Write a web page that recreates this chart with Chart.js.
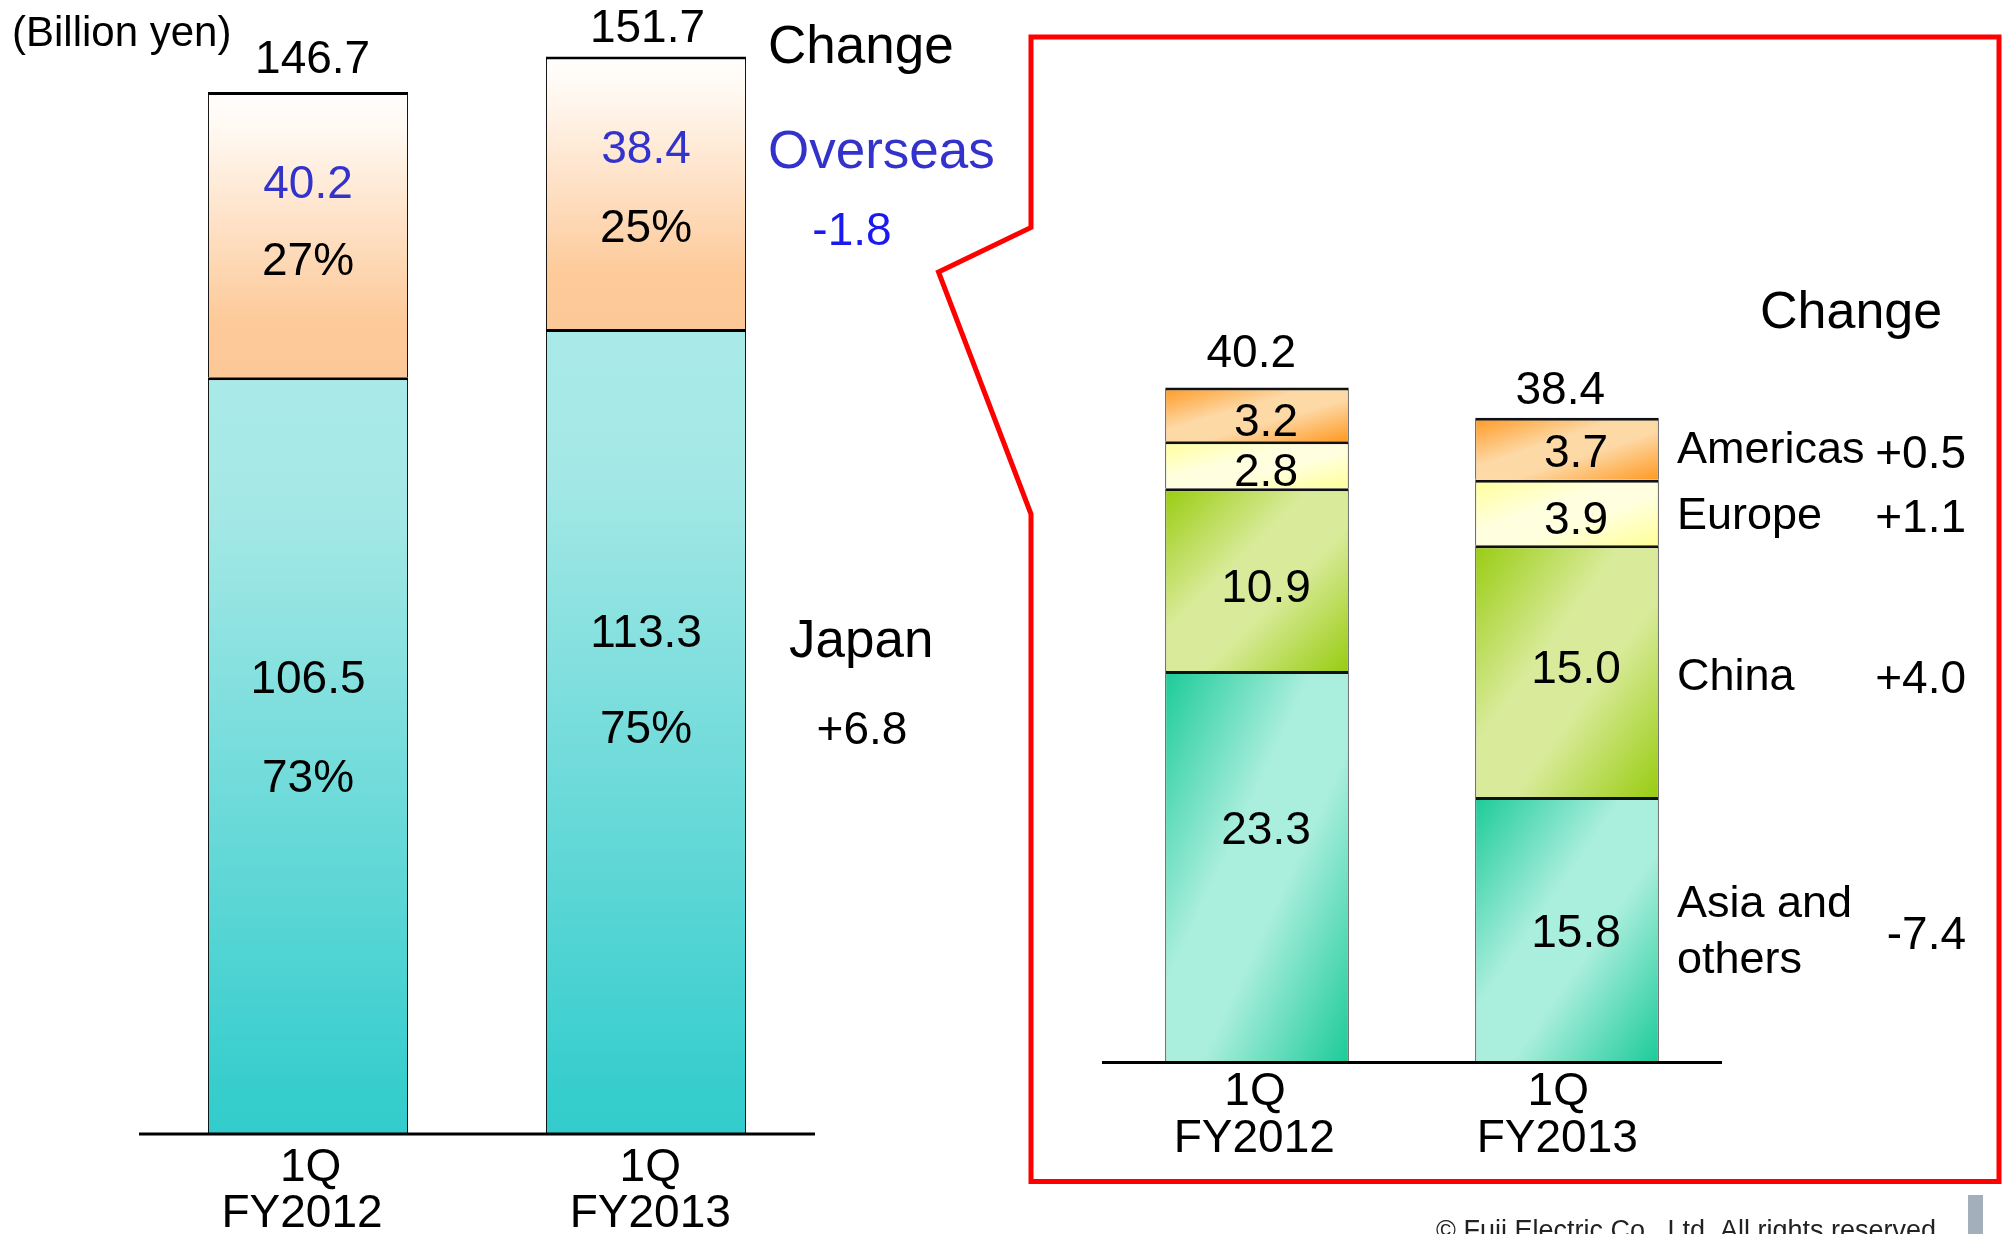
<!DOCTYPE html>
<html>
<head>
<meta charset="utf-8">
<script src="https://cdn.jsdelivr.net/npm/chart.js@4.4.1/dist/chart.umd.min.js"></script>
<style>
html,body{margin:0;padding:0;background:#ffffff;}
body{width:2004px;height:1234px;position:relative;overflow:hidden;}
canvas{position:absolute;left:0;top:0;}
</style>
</head>
<body>
<canvas id="leftChart" width="1000" height="1234"></canvas>
<canvas id="rightChart" width="2004" height="1234"></canvas>
<script>
// ---------------- DATA ----------------
const tickLine1 = ['1Q', '1Q'];
const tickLine2 = ['FY2012', 'FY2013'];
const unitLabel = '(Billion yen)';

// Left chart: total net sales split Japan / Overseas
const japan = [106.5, 113.3];
const overseas = [40.2, 38.4];
const salesTotals = [146.7, 151.7];
const japanShare = ['73%', '75%'];
const overseasShare = ['27%', '25%'];
const changeHeader = 'Change';
const japanName = 'Japan';
const overseasName = 'Overseas';
const japanChange = '+6.8';
const overseasChange = '-1.8';

// Right chart: overseas breakdown
const asiaOthers = [23.3, 15.8];
const china = [10.9, 15.0];
const europe = [2.8, 3.9];
const americas = [3.2, 3.7];
const overseasTotals = [40.2, 38.4];
const regionNames = [['Asia and', 'others'], ['China'], ['Europe'], ['Americas']];
const regionChanges = ['-7.4', '+4.0', '+1.1', '+0.5'];
const footerText = '\u00A9 Fuji Electric Co., Ltd. All rights reserved.';

// ---------------- STYLE ----------------
const FONT = '"Liberation Sans", Arial, Helvetica, sans-serif';
const BLUE = '#3333cc';
const BLUE2 = '#1a1aee';

function txt(ctx, s, x, yCap, size, color, align) {
  ctx.save();
  ctx.font = size + 'px ' + FONT;
  ctx.fillStyle = color || '#000';
  ctx.textAlign = align || 'center';
  ctx.textBaseline = 'alphabetic';
  ctx.fillText(s, x, yCap + 0.358 * size);
  ctx.restore();
}

// bounds of a stacked segment computed through the chart scales
function segBounds(chart, d, i, bp) {
  const xs = chart.scales.x, ys = chart.scales.y;
  let base = 0;
  for (let k = 0; k < d; k++) base += chart.data.datasets[k].data[i];
  const v = chart.data.datasets[d].data[i];
  const xc = xs.getPixelForValue(i);
  const step = xs.getPixelForValue(1) - xs.getPixelForValue(0);
  const half = step * bp / 2;
  const yTop = ys.getPixelForValue(base + v);
  const yBot = ys.getPixelForValue(base);
  return {x0: xc - half, x1: xc + half, xc: xc, yTop: yTop, yBot: yBot, yc: (yTop + yBot) / 2};
}

const LEFT_BP = 0.592;
const RIGHT_BP = 0.592;

function verticalGrad(stops, fallback) {
  return function(ctx) {
    const chart = ctx.chart;
    if (!chart.chartArea || ctx.dataIndex === undefined) return fallback;
    const b = segBounds(chart, ctx.datasetIndex, ctx.dataIndex, LEFT_BP);
    const g = chart.ctx.createLinearGradient(0, b.yTop, 0, b.yBot);
    stops.forEach(s => g.addColorStop(s[0], s[1]));
    return g;
  };
}

function diagGrad(dark, light, fallback) {
  return function(ctx) {
    const chart = ctx.chart;
    if (!chart.chartArea || ctx.dataIndex === undefined) return fallback;
    const b = segBounds(chart, ctx.datasetIndex, ctx.dataIndex, RIGHT_BP);
    const w = b.x1 - b.x0, h = b.yBot - b.yTop;
    const f = 2 * w * h / (w * w + h * h);
    const g = chart.ctx.createLinearGradient(b.x0, b.yTop, b.x0 + h * f, b.yTop + w * f);
    g.addColorStop(0, dark);
    g.addColorStop(0.4, light);
    g.addColorStop(0.6, light);
    g.addColorStop(1, dark);
    return g;
  };
}

const leftStyle = {
  totalDx: [4.6, 1.5], totalDy: [-35.6, -30.4],
  japanRows: [[-78.5, 20.6], [-100.2, -4.3]],
  overseasRows: [[-52.8, 23.5], [-46, 33.3]],
  tick1Dx: [2.6, 4.3], tick2Dx: [-6, 4.3],
  tick1Dy: 32, tick2Dy: 78
};

const rightStyle = {
  totalDx: [-5.7, -6.7], totalDy: [-37, -30],
  labelDx: 9,
  labelDy: [[-39, 5.4, 4.8, 5.2], [1.5, -5, 5, 1.3]],
  tick1Dx: [-2, -8.7], tick2Dx: [-2.7, -9.7],
  tick1Dy: 27, tick2Dy: 74,
  nameDy: [[-29, 27], [2.5], [0], [-1.7]],
  changeDy: [3.5, 5, 3.5, 2.3]
};

// ---------------- LEFT CHART ----------------
const leftLabelsPlugin = {
  id: 'leftLabels',
  afterDatasetsDraw(chart) {
    const ctx = chart.ctx, ca = chart.chartArea;
    const xs = chart.scales.x, ys = chart.scales.y;
    // baseline axis
    ctx.save();
    ctx.fillStyle = '#000';
    ctx.fillRect(ca.left, ca.bottom - 0.5, ca.right - ca.left, 3);
    ctx.restore();
    txt(ctx, unitLabel, 12, 31, 42, '#000', 'left');
    for (let i = 0; i < tickLine1.length; i++) {
      const xc = xs.getPixelForValue(i);
      txt(ctx, tickLine1[i], xc + leftStyle.tick1Dx[i], ca.bottom + leftStyle.tick1Dy, 46);
      txt(ctx, tickLine2[i], xc + leftStyle.tick2Dx[i], ca.bottom + leftStyle.tick2Dy, 46);
      const yT = ys.getPixelForValue(salesTotals[i]);
      txt(ctx, salesTotals[i].toFixed(1), xc + leftStyle.totalDx[i], yT + leftStyle.totalDy[i], 46);
      const bj = segBounds(chart, 0, i, LEFT_BP);
      txt(ctx, japan[i].toFixed(1), bj.xc, bj.yc + leftStyle.japanRows[i][0], 46);
      txt(ctx, japanShare[i], bj.xc, bj.yc + leftStyle.japanRows[i][1], 46);
      const bo = segBounds(chart, 1, i, LEFT_BP);
      txt(ctx, overseas[i].toFixed(1), bo.xc, bo.yc + leftStyle.overseasRows[i][0], 46, BLUE);
      txt(ctx, overseasShare[i], bo.xc, bo.yc + leftStyle.overseasRows[i][1], 46);
    }
    // change column
    const bj2 = segBounds(chart, 0, 1, LEFT_BP);
    const bo2 = segBounds(chart, 1, 1, LEFT_BP);
    txt(ctx, changeHeader, 768, 44, 53, '#000', 'left');
    txt(ctx, overseasName, 768, bo2.yc - 44, 53, BLUE, 'left');
    txt(ctx, overseasChange, 852, bo2.yc + 36, 46, BLUE2, 'center');
    txt(ctx, japanName, 789, bj2.yc - 93, 53, '#000', 'left');
    txt(ctx, japanChange, 862, bj2.yc - 3.5, 46, '#000', 'center');
  }
};

new Chart(document.getElementById('leftChart'), {
  type: 'bar',
  data: {
    labels: tickLine1.map((t, i) => [t, tickLine2[i]]),
    datasets: [
      {
        label: japanName, data: japan,
        backgroundColor: verticalGrad([[0, '#a9eae8'], [0.18, '#a4e8e6'], [0.95, '#36cdcd'], [1, '#33cbcb']], '#7fdcdc'),
        borderColor: '#000', borderWidth: {top: 3, left: 1, right: 1, bottom: 0}, borderSkipped: 'start'
      },
      {
        label: overseasName, data: overseas,
        backgroundColor: verticalGrad([[0, '#fffefd'], [0.12, '#fff9f3'], [0.8, '#fdca9a'], [1, '#fdc897']], '#fde0c0'),
        borderColor: '#000', borderWidth: {top: 3, left: 1, right: 1, bottom: 0}, borderSkipped: 'start'
      }
    ]
  },
  options: {
    responsive: false, animation: false, devicePixelRatio: 1,
    layout: {padding: {left: 139, right: 185, top: 33, bottom: 101}},
    datasets: {bar: {barPercentage: LEFT_BP, categoryPercentage: 1}},
    scales: {
      x: {stacked: true, display: false},
      y: {stacked: true, display: false, min: 0, max: 155}
    },
    plugins: {legend: {display: false}, tooltip: {enabled: false}}
  },
  plugins: [leftLabelsPlugin]
});

// ---------------- RIGHT CHART ----------------
const rightPlugin = {
  id: 'rightDecor',
  beforeDraw(chart) {
    const ctx = chart.ctx;
    ctx.save();
    ctx.strokeStyle = '#ff0000';
    ctx.lineWidth = 5;
    ctx.lineJoin = 'miter';
    ctx.beginPath();
    ctx.moveTo(1031, 37);
    ctx.lineTo(1999, 37);
    ctx.lineTo(1999, 1181.5);
    ctx.lineTo(1031, 1181.5);
    ctx.lineTo(1031, 514);
    ctx.lineTo(938.5, 272);
    ctx.lineTo(1031, 227.5);
    ctx.closePath();
    ctx.stroke();
    ctx.restore();
  },
  afterDatasetsDraw(chart) {
    const ctx = chart.ctx, ca = chart.chartArea;
    const xs = chart.scales.x, ys = chart.scales.y;
    ctx.save();
    ctx.fillStyle = '#000';
    ctx.fillRect(ca.left, ca.bottom - 1, ca.right - ca.left, 3);
    ctx.restore();
    const n = chart.data.datasets.length;
    for (let i = 0; i < tickLine1.length; i++) {
      const xc = xs.getPixelForValue(i);
      txt(ctx, tickLine1[i], xc + rightStyle.tick1Dx[i], ca.bottom + rightStyle.tick1Dy, 46);
      txt(ctx, tickLine2[i], xc + rightStyle.tick2Dx[i], ca.bottom + rightStyle.tick2Dy, 46);
      const yT = ys.getPixelForValue(overseasTotals[i]);
      txt(ctx, overseasTotals[i].toFixed(1), xc + rightStyle.totalDx[i], yT + rightStyle.totalDy[i], 46);
      for (let d = 0; d < n; d++) {
        const b = segBounds(chart, d, i, RIGHT_BP);
        const v = chart.data.datasets[d].data[i];
        txt(ctx, v.toFixed(1), b.xc + rightStyle.labelDx, b.yc + rightStyle.labelDy[i][d], 46);
      }
    }
    // change column aligned on the FY2013 segments
    txt(ctx, changeHeader, 1760, 309, 52, '#000', 'left');
    for (let d = 0; d < n; d++) {
      const b = segBounds(chart, d, 1, RIGHT_BP);
      regionNames[d].forEach((line, k) => {
        txt(ctx, line, 1677, b.yc + rightStyle.nameDy[d][k], 45, '#000', 'left');
      });
      txt(ctx, regionChanges[d], 1966, b.yc + rightStyle.changeDy[d], 46, '#000', 'right');
    }
    // footer
    ctx.save();
    ctx.font = '27px ' + FONT;
    ctx.fillStyle = '#222';
    ctx.textAlign = 'left';
    ctx.textBaseline = 'alphabetic';
    ctx.fillText(footerText, 1436, 1239);
    ctx.fillStyle = '#a3afbb';
    ctx.fillRect(1968, 1195, 15, 39);
    ctx.restore();
  }
};

new Chart(document.getElementById('rightChart'), {
  type: 'bar',
  data: {
    labels: tickLine1.map((t, i) => [t, tickLine2[i]]),
    datasets: [
      {label: regionNames[0].join(' '), data: asiaOthers,
       backgroundColor: diagGrad('#1ccb98', '#aaeedd', '#6fdcbc'),
       borderColor: '#111', borderWidth: {top: 3, left: 1, right: 1, bottom: 0}, borderSkipped: 'start'},
      {label: regionNames[1].join(' '), data: china,
       backgroundColor: diagGrad('#99cc11', '#d9eb9b', '#c0dd66'),
       borderColor: '#111', borderWidth: {top: 3, left: 1, right: 1, bottom: 0}, borderSkipped: 'start'},
      {label: regionNames[2].join(' '), data: europe,
       backgroundColor: diagGrad('#ffff99', '#ffffe0', '#ffffbb'),
       borderColor: '#111', borderWidth: {top: 3, left: 1, right: 1, bottom: 0}, borderSkipped: 'start'},
      {label: regionNames[3].join(' '), data: americas,
       backgroundColor: diagGrad('#ff9922', '#fdd9a6', '#fdbb77'),
       borderColor: '#111', borderWidth: {top: 3, left: 1, right: 1, bottom: 0}, borderSkipped: 'start'}
    ]
  },
  options: {
    responsive: false, animation: false, devicePixelRatio: 1,
    layout: {padding: {left: 1102, right: 282, top: 307, bottom: 172}},
    datasets: {bar: {barPercentage: RIGHT_BP, categoryPercentage: 1}},
    scales: {
      x: {stacked: true, display: false},
      y: {stacked: true, display: false, min: 0, max: 45}
    },
    plugins: {legend: {display: false}, tooltip: {enabled: false}}
  },
  plugins: [rightPlugin]
});
</script>
</body>
</html>
